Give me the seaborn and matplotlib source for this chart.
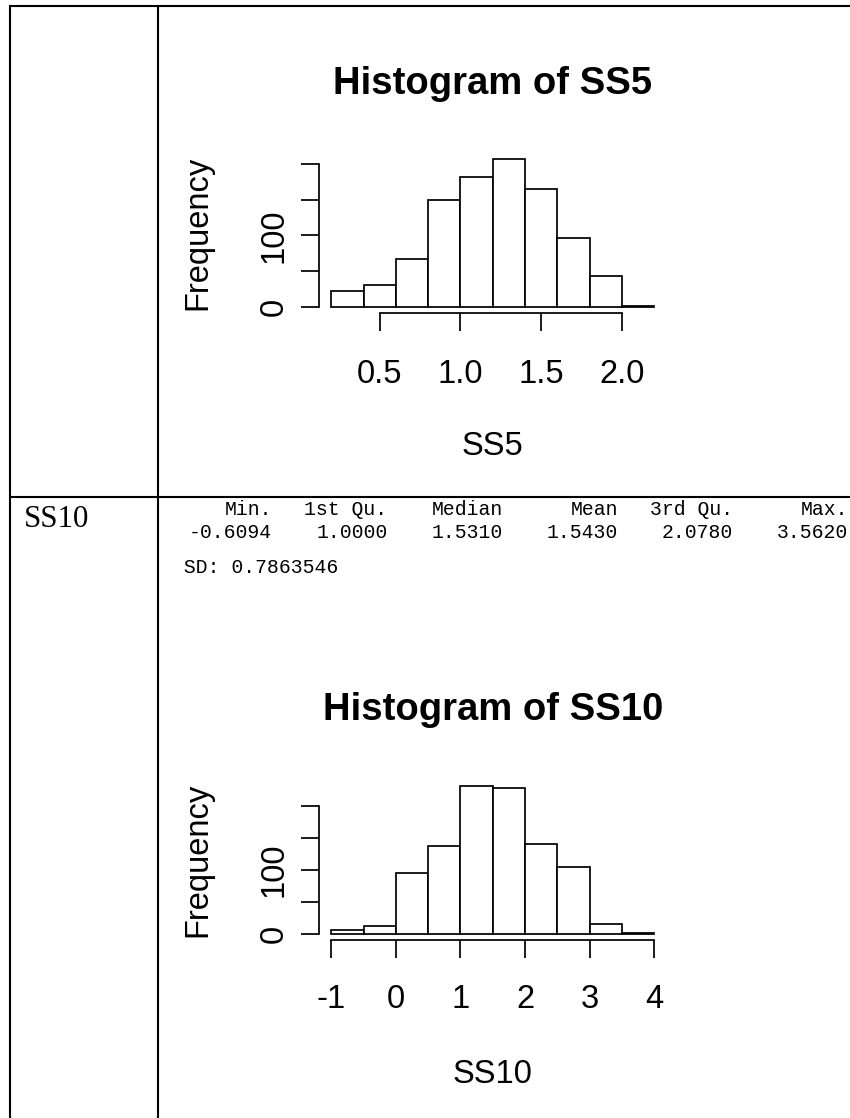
import numpy as np
import pandas as pd
import matplotlib
matplotlib.use("Agg")
import matplotlib.pyplot as plt
import seaborn as sns
from matplotlib.lines import Line2D

# ---- data -------------------------------------------------------------
ss5_bin_edges = [0.2, 0.4, 0.6, 0.8, 1.0, 1.2, 1.4, 1.6, 1.8, 2.0, 2.2]
ss5_counts = [23, 31, 67, 150, 181, 206, 165, 97, 44, 2]
ss5_xticks = [0.5, 1.0, 1.5, 2.0]
ss5_xticklabels = ["0.5", "1.0", "1.5", "2.0"]

ss10_bin_edges = [-1.0, -0.5, 0.0, 0.5, 1.0, 1.5, 2.0, 2.5, 3.0, 3.5, 4.0]
ss10_counts = [7, 12, 95, 137, 231, 228, 141, 105, 15, 2]
ss10_xticks = [-1, 0, 1, 2, 3, 4]
ss10_xticklabels = ["-1", "0", "1", "2", "3", "4"]

freq_ticks = [0, 50, 100, 150, 200]
freq_ticklabels = ["0", "", "100", "", ""]

summary_names = ["Min.", "1st Qu.", "Median", "Mean", "3rd Qu.", "Max."]
summary_values = ["-0.6094", "1.0000", "1.5310", "1.5430", "2.0780", "3.5620"]
sd_value = "0.7863546"
row_label = "SS10"

# ---- figure -----------------------------------------------------------
W, H = 850, 1118
sns.set_theme(style="ticks", rc={"axes.edgecolor": "black",
                                 "xtick.color": "black",
                                 "ytick.color": "black",
                                 "text.color": "black",
                                 "axes.labelcolor": "black"})
plt.rcParams["font.family"] = ["Liberation Sans", "DejaVu Sans"]

fig = plt.figure(figsize=(W / 100, H / 100), dpi=100)
fig.patch.set_facecolor("white")


def fx(px):
    return px / W


def fy(py):
    return 1 - py / H


# table rules
rule = dict(color="black", linewidth=1.5, solid_capstyle="butt")
fig.add_artist(Line2D([fx(8.5), fx(850)], [fy(5.7), fy(5.7)], **rule))
fig.add_artist(Line2D([fx(9.7), fx(9.7)], [fy(5), fy(1118)], **rule))
fig.add_artist(Line2D([fx(157.7), fx(157.7)], [fy(5), fy(1118)], **rule))
fig.add_artist(Line2D([fx(9), fx(850)], [fy(496.5), fy(496.5)], **rule))

AX_LEFT, AX_RIGHT = 318.5, 667.0
AXIS_FS = 23.5
TITLE_FS = 27.5
LW = 1.25


def hist_panel(top, bottom, edges, counts, xticks, xlabels, name,
               title_base, xlab_base, xpad):
    ax = fig.add_axes([fx(AX_LEFT), fy(bottom),
                       (AX_RIGHT - AX_LEFT) / W, (bottom - top) / H])
    centers = [(a + b) / 2 for a, b in zip(edges[:-1], edges[1:])]
    df = pd.DataFrame({"value": centers, "count": counts})
    sns.histplot(data=df, x="value", weights="count", bins=list(edges),
                 ax=ax, color="white", edgecolor="black", linewidth=LW,
                 alpha=1, fill=True)
    span = edges[-1] - edges[0]
    ax.set_xlim(edges[0] - 0.04 * span, edges[-1] + 0.04 * span)
    ymax = max(counts)
    ax.set_ylim(-0.04 * ymax, 1.04 * ymax)
    ax.set_facecolor("white")

    for s in ("top", "right"):
        ax.spines[s].set_visible(False)
    for s in ("left", "bottom"):
        ax.spines[s].set_color("black")
        ax.spines[s].set_linewidth(LW)
    ax.spines["left"].set_bounds(freq_ticks[0], freq_ticks[-1])
    ax.spines["bottom"].set_bounds(xticks[0], xticks[-1])

    ax.set_xticks(xticks)
    ax.set_xticklabels(xlabels)
    ax.set_yticks(freq_ticks)
    ax.set_yticklabels(freq_ticklabels, rotation=90, va="center")
    ax.tick_params(axis="both", direction="out", length=13.2, width=LW,
                   color="black", labelsize=AXIS_FS, labelcolor="black")
    ax.tick_params(axis="x", pad=xpad)
    ax.tick_params(axis="y", pad=7.5)

    ax.set_xlabel(name, fontsize=AXIS_FS)
    ax.xaxis.label.set_va("baseline")
    ax.xaxis.set_label_coords(fx((AX_LEFT + AX_RIGHT) / 2), fy(xlab_base),
                              transform=fig.transFigure)
    ax.set_ylabel("Frequency", fontsize=AXIS_FS)
    ax.yaxis.set_label_coords(fx(213), fy((top + bottom) / 2),
                              transform=fig.transFigure)

    fig.text(fx((AX_LEFT + AX_RIGHT) / 2), fy(title_base),
             f"Histogram of {name}", fontsize=TITLE_FS, fontweight="bold",
             ha="center", va="baseline")
    return ax


hist_panel(153.4, 313.2, ss5_bin_edges, ss5_counts, ss5_xticks,
           ss5_xticklabels, "SS5", title_base=94, xlab_base=455, xpad=19.5)
hist_panel(780.4, 940.0, ss10_bin_edges, ss10_counts, ss10_xticks,
           ss10_xticklabels, "SS10", title_base=720, xlab_base=1082.7,
           xpad=18.5)

# row label
fig.text(fx(23.5), fy(526.7), row_label, family="Liberation Serif",
         fontsize=22.3, ha="left", va="baseline")

# printed summary, laid out in fixed-width columns of 7 characters
PITCH = 14.4          # character pitch in pixels
X0 = 171.5            # left edge of the console text
mono = dict(family="Liberation Mono", fontsize=14.2, va="baseline")
for i, (name, val) in enumerate(zip(summary_names, summary_values)):
    right = X0 + (8 * i + 7) * PITCH
    fig.text(fx(right), fy(515.0), name, ha="right", **mono)
    fig.text(fx(right), fy(537.8), val, ha="right", **mono)
fig.text(fx(X0), fy(573), f" SD: {sd_value}", ha="left", **mono)

fig.savefig("out.png", dpi=100, facecolor="white")
